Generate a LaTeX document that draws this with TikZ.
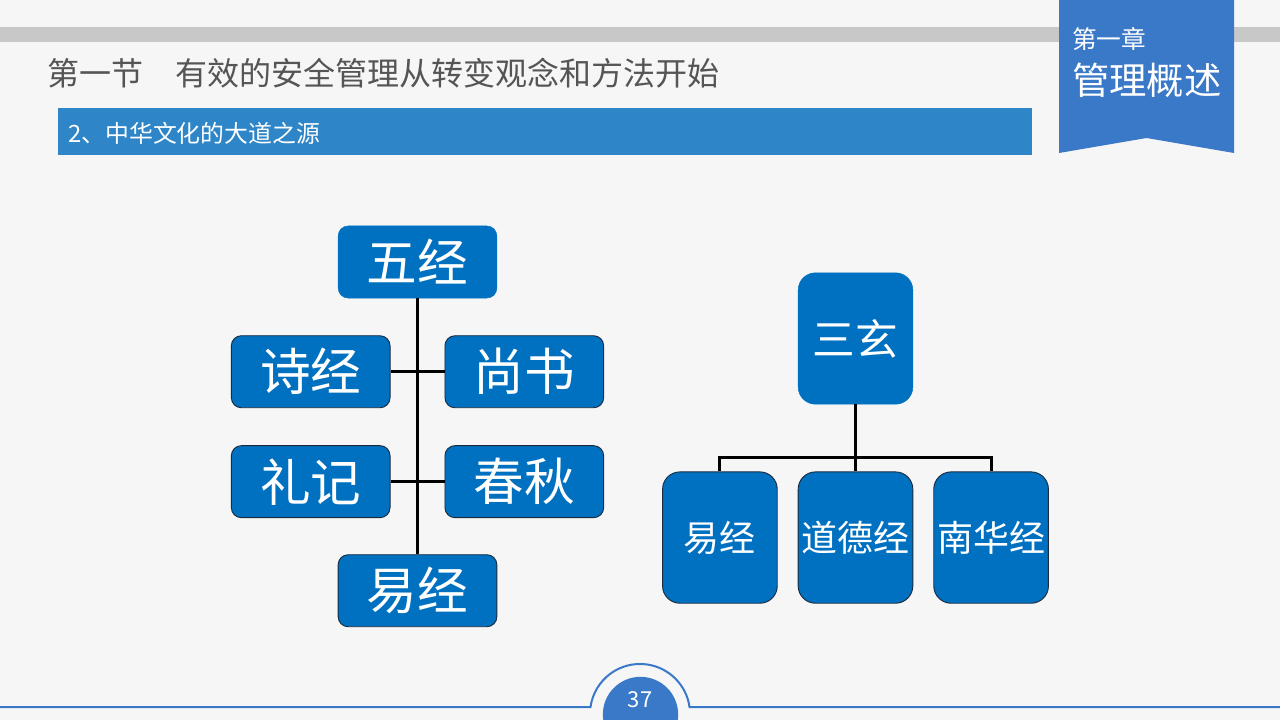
\documentclass[tikz,border=0pt]{standalone}
\usepackage{fontspec}
\setmainfont{Noto Sans CJK SC}
\usetikzlibrary{positioning,calc}
\definecolor{pagegray}{RGB}{246,246,246}
\definecolor{bargray}{RGB}{200,200,200}
\definecolor{chapterblue}{RGB}{58,120,200}
\definecolor{sectionblue}{RGB}{46,134,200}
\definecolor{nodeblue}{RGB}{0,112,192}
\definecolor{edgenavy}{RGB}{28,44,64}
\definecolor{titlegray}{RGB}{85,85,85}
\tikzstyle{pagetext} = [anchor=west, inner sep=0pt]
\tikzstyle{rootbox} = [rectangle, rounded corners=7.5pt, minimum width=119pt, minimum height=54pt, inner sep=0pt, text centered, fill=nodeblue, draw=nodeblue, text=white, font=\fontsize{38}{42}\selectfont]
\tikzstyle{leafbox} = [rootbox, draw=edgenavy, line width=0.7pt]
\tikzstyle{tallroot} = [rectangle, rounded corners=13pt, minimum width=86pt, minimum height=98.5pt, inner sep=0pt, text centered, fill=nodeblue, draw=nodeblue, text=white, font=\fontsize{32}{36}\selectfont]
\tikzstyle{tallleaf} = [tallroot, draw=edgenavy, line width=0.7pt, font=\fontsize{27}{30}\selectfont]
\tikzstyle{treeline} = [line width=2.3pt, color=black]

\begin{document}
\begin{tikzpicture}[x=0.75pt, y=-0.75pt, node distance=27.75pt and 20.25pt]

% Page
\clip (0,0) rectangle (1280,720);
\fill[pagegray] (0,0) rectangle (1280,720);
\fill[bargray] (0,27) rectangle (1280,42);

% Chapter badge
\fill[chapterblue] (1059,0) -- (1234,0) -- (1234,153) -- (1146.5,138) -- (1059,153) -- cycle;
\node[pagetext, text=white, font=\fontsize{18.5}{20}\selectfont] (chapno) at (1072,39) {第一章};
\node[pagetext, text=white, font=\fontsize{28}{30}\selectfont] (chapname) at (1072,80) {管理概述};

% Section heading
\node[pagetext, text=titlegray, font=\fontsize{24}{28}\selectfont] (title) at (47,73) {第一节　有效的安全管理从转变观念和方法开始};
\fill[sectionblue] (58,108) rectangle (1032,155);
\node[pagetext, text=white, font=\fontsize{17.9}{20}\selectfont] (section) at (68,133) {2、中华文化的大道之源};

% Five classics
\node[rootbox] (wujing) at (417.5,262) {五经};
\node[leafbox, below left=of wujing.south] (shijing) {诗经};
\node[leafbox, below right=of wujing.south] (shangshu) {尚书};
\node[leafbox, below=of shijing] (liji) {礼记};
\node[leafbox, below=of shangshu] (chunqiu) {春秋};
\node[leafbox, below=192pt of wujing] (yijing) {易经};

\draw[treeline] (wujing) -- (yijing);
\draw[treeline] (shijing) -- (shangshu);
\draw[treeline] (liji) -- (chunqiu);

% Three mysteries
\node[tallroot] (sanxuan) at (855.5,338.5) {三玄};
\node[tallleaf, below=50.25pt of sanxuan] (daodejing) {道德经};
\node[tallleaf, left=15pt of daodejing] (yijingb) {易经};
\node[tallleaf, right=15pt of daodejing] (nanhuajing) {南华经};

\coordinate (bus) at ($(sanxuan.south)!0.79!(daodejing.north)$);
\draw[treeline] (sanxuan) -- (daodejing);
\draw[treeline] (yijingb.north) |- (bus) -| (nanhuajing.north);

% Page number
\draw[chapterblue, line width=1.5pt] (0,707) -- (590.5,707) arc[start angle=172, end angle=8, radius=37.5pt] -- (1280,707);
\node[circle, fill=chapterblue, minimum size=56.5pt, inner sep=0pt] (pagedisc) at (640.5,714.5) {};
\node[text=white, inner sep=0pt, font=\fontsize{16.5}{18}\selectfont] (pageno) at (640,700) {37};

\end{tikzpicture}
\end{document}
